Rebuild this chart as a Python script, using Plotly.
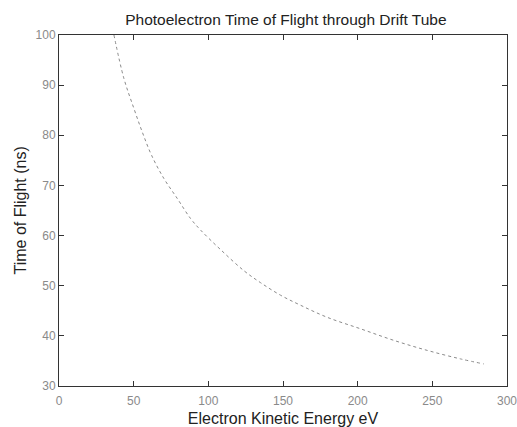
import plotly.graph_objects as go

# Kinetic energy (eV) and drift-tube flight time (ns)
energy_ev = [36.8, 43.4, 50.1, 55.7, 62.0, 70.2, 79.2, 88.1, 94.8, 108.2,
             123.8, 135.0, 148.4, 161.8, 179.6, 202.0, 224.2, 246.6, 268.9, 284.5]
tof_ns = [100.0, 91.4, 85.4, 80.7, 76.0, 71.4, 67.4, 63.4, 61.1, 57.2,
          53.0, 50.6, 48.1, 46.1, 43.7, 41.4, 39.1, 37.1, 35.4, 34.4]

x_ticks = [0, 50, 100, 150, 200, 250, 300]
y_ticks = [30, 40, 50, 60, 70, 80, 90, 100]

FONT = "Liberation Sans, Arial"

fig = go.Figure(go.Scatter(
    x=energy_ev, y=tof_ns, mode="lines",
    line=dict(color="#8a8a8a", width=1, dash="dot", shape="spline"),
    showlegend=False,
))

axis_common = dict(
    showgrid=False, zeroline=False, showline=True, linecolor="#333333", linewidth=1,
    mirror="ticks", ticks="inside", ticklen=5, tickcolor="#333333",
    ticklabeloverflow="allow", automargin=False,
    tickfont=dict(family=FONT, size=12, color="#8a8a8a"),
)

fig.update_layout(
    width=517, height=427,
    margin=dict(l=59, r=10, t=35, b=41),
    paper_bgcolor="white", plot_bgcolor="white",
    title=dict(text="Photoelectron Time of Flight through Drift Tube",
               x=0.553, xanchor="center", y=0.953, yanchor="middle",
               font=dict(family=FONT, size=15.5, color="#222222")),
    xaxis=dict(range=[0, 300], tickvals=x_ticks, **axis_common,
               ticklabelstandoff=4,
               title=dict(text="Electron Kinetic Energy eV",
                          font=dict(family=FONT, size=16, color="#222222"))),
    yaxis=dict(range=[30, 100], tickvals=y_ticks, **axis_common),
)

# Vertical axis title placed as an annotation beside the tick labels
fig.add_annotation(
    text="Time of Flight (ns)", textangle=-90, showarrow=False,
    xref="paper", yref="paper", x=0, y=0.5, xanchor="center", yanchor="middle",
    xshift=-39, font=dict(family=FONT, size=16, color="#222222"),
)

fig.write_html("out.html")
